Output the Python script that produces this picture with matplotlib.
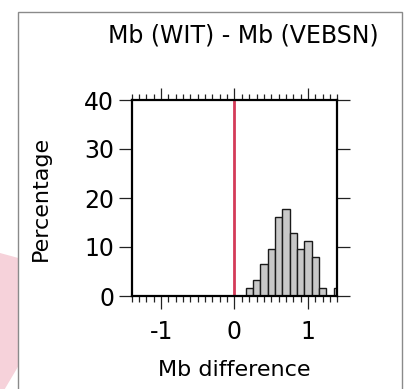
import matplotlib
matplotlib.use("Agg")
import matplotlib.pyplot as plt
from matplotlib.patches import Rectangle, Polygon
import numpy as np

# Data: bin centres (Mb difference) and percentages
bin_centers = [0.2, 0.3, 0.4, 0.5, 0.6, 0.7, 0.8, 0.9, 1.0, 1.1, 1.2, 1.3, 1.4]
percentages = [1.61, 3.23, 6.45, 9.68, 16.13, 17.74, 12.90, 9.68, 11.29, 8.06, 1.61, 0.0, 1.61]
bin_width = 0.1
x_ticks = [-1, 0, 1]
y_ticks = [0, 10, 20, 30, 40]
title = "Mb (WIT) - Mb (VEBSN)"
xlabel = "Mb difference"
ylabel = "Percentage"

W, H = 404, 389
fig = plt.figure(figsize=(W / 100, H / 100), dpi=100)
fig.patch.set_facecolor("white")

def fx(px):
    return px / W

def fy(py):
    return 1 - py / H

# decorative pink shape and outer frame
pink = Polygon([(fx(0), fy(253)), (fx(22), fy(259)), (fx(22), fy(360)), (fx(3), fy(392)), (fx(0), fy(392))],
               closed=True, transform=fig.transFigure, facecolor="#f6d2da", edgecolor="none", zorder=-3)
fig.patches.append(pink)
frame = Rectangle((fx(17.5), fy(395)), fx(401.7) - fx(17.5), fy(11.5) - fy(395),
                  transform=fig.transFigure, facecolor="white", edgecolor="#8a8a8a", linewidth=1.0, zorder=-2)
fig.patches.append(frame)

ax = fig.add_axes([fx(131.7), fy(296), fx(337.3) - fx(131.7), fy(100) - fy(296)])
ax.set_facecolor("white")

ax.bar(bin_centers, percentages, width=bin_width, color="#c8c8c8", edgecolor="#1a1a1a",
       linewidth=1.0, align="center", zorder=2)
ax.axvline(0, color="#d43a58", linewidth=2.0, zorder=3)

ax.set_xlim(-1.4, 1.4)
ax.set_ylim(0, 40)
ax.set_xticks(x_ticks)
ax.set_xticklabels(["-1", "0", "1"])
ax.set_xticks(np.arange(-1.4, 1.41, 0.1), minor=True)
ax.set_yticks(y_ticks)

for s in ax.spines.values():
    s.set_linewidth(1.6)
    s.set_color("black")
    s.set_zorder(5)

ax.tick_params(axis="x", which="major", direction="out", length=9, width=0.9, color="#222222",
               top=True, bottom=True, labeltop=False, labelsize=17, pad=8)
ax.tick_params(axis="x", which="minor", direction="out", length=4.5, width=0.9, color="#222222",
               top=True, bottom=True)
ax.tick_params(axis="y", which="major", direction="out", length=9.5, width=0.9, color="#222222",
               left=True, right=True, labelright=False, labelsize=17, pad=3)

ax.set_xlabel(xlabel, fontsize=16, labelpad=12)
ax.set_ylabel(ylabel, fontsize=16, labelpad=24)

fig.text(fx(243), fy(35), title, fontsize=17, ha="center", va="center")

fig.savefig("out.png", dpi=100)
